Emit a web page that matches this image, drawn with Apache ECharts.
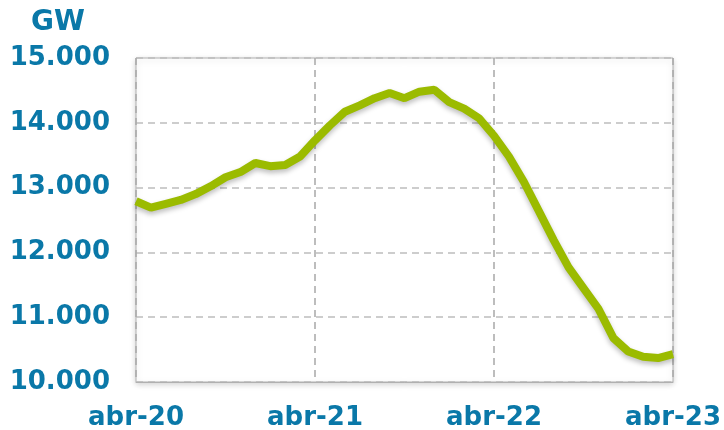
<!DOCTYPE html>
<html lang="es">
<head>
    <meta charset="UTF-8">
    <title>GW</title>
    <script src="https://cdn.jsdelivr.net/npm/echarts@6/dist/echarts.min.js"></script>
</head>
<body style="margin:0;background:#fff">
<div id="chart" style="width: 724px;height: 430px"></div>

<script>
    var months = ['abr-20', 'may-20', 'jun-20', 'jul-20', 'ago-20', 'sep-20', 'oct-20', 'nov-20', 'dic-20',
        'ene-21', 'feb-21', 'mar-21', 'abr-21', 'may-21', 'jun-21', 'jul-21', 'ago-21', 'sep-21', 'oct-21',
        'nov-21', 'dic-21', 'ene-22', 'feb-22', 'mar-22', 'abr-22', 'may-22', 'jun-22', 'jul-22', 'ago-22',
        'sep-22', 'oct-22', 'nov-22', 'dic-22', 'ene-23', 'feb-23', 'mar-23', 'abr-23'];
    var values = [12790, 12690, 12750, 12810, 12900, 13020, 13160, 13240, 13380,
        13330, 13350, 13480, 13730, 13960, 14170, 14270, 14380, 14460, 14380,
        14480, 14510, 14320, 14220, 14070, 13800, 13480, 13090, 12640, 12190,
        11770, 11450, 11130, 10680, 10470, 10390, 10370, 10430];
    var yTicks = [10000, 15000, 1000];

    var blue = '#0a78a8';
    var chart = echarts.init(document.getElementById('chart'));

    var option = {
        animation: false,
        title: {
            text: 'GW',
            left: 31,
            top: 9,
            padding: 0,
            textStyle: {
                color: blue,
                fontFamily: 'DejaVu Sans',
                fontWeight: 'bold',
                fontSize: 28
            }
        },
        grid: {
            left: 136, right: 51, top: 58, bottom: 48,
            outerBoundsMode: 'none',
            containLabel: false,
            show: true,
            borderColor: '#b0b0b0',
            borderWidth: 1,
            backgroundColor: '#fff',
            shadowColor: 'rgba(0,0,0,0.18)',
            shadowBlur: 6,
            shadowOffsetY: 2
        },
        xAxis: {
            type: 'category',
            data: months,
            boundaryGap: false,
            axisLine: { lineStyle: { color: '#b0b0b0' } },
            axisTick: { show: false },
            axisLabel: {
                interval: 11,
                color: blue,
                fontFamily: 'DejaVu Sans',
                fontWeight: 'bold',
                fontSize: 26,
                margin: 23
            },
            splitLine: {
                show: true,
                interval: 11,
                lineStyle: { color: '#a8a8a8', type: [7, 5], width: 1.5 }
            }
        },
        yAxis: {
            type: 'value',
            min: yTicks[0],
            max: yTicks[1],
            interval: yTicks[2],
            axisLine: { show: false },
            axisTick: { show: false },
            axisLabel: {
                color: blue,
                fontFamily: 'DejaVu Sans',
                fontWeight: 'bold',
                fontSize: 26,
                margin: 26,
                formatter: function (v) {
                    return (v / 1000).toFixed(3);
                }
            },
            splitLine: {
                lineStyle: { color: '#bdbdbd', type: [7, 5], width: 1.5 }
            }
        },
        series: [
            {
                type: 'line',
                data: values,
                symbol: 'none',
                lineStyle: {
                    color: '#9bbb00',
                    width: 8,
                    shadowColor: 'rgba(0,0,0,0.25)',
                    shadowBlur: 5,
                    shadowOffsetY: 3
                }
            }
        ]
    };
    chart.setOption(option);
</script>
</body>
</html>
